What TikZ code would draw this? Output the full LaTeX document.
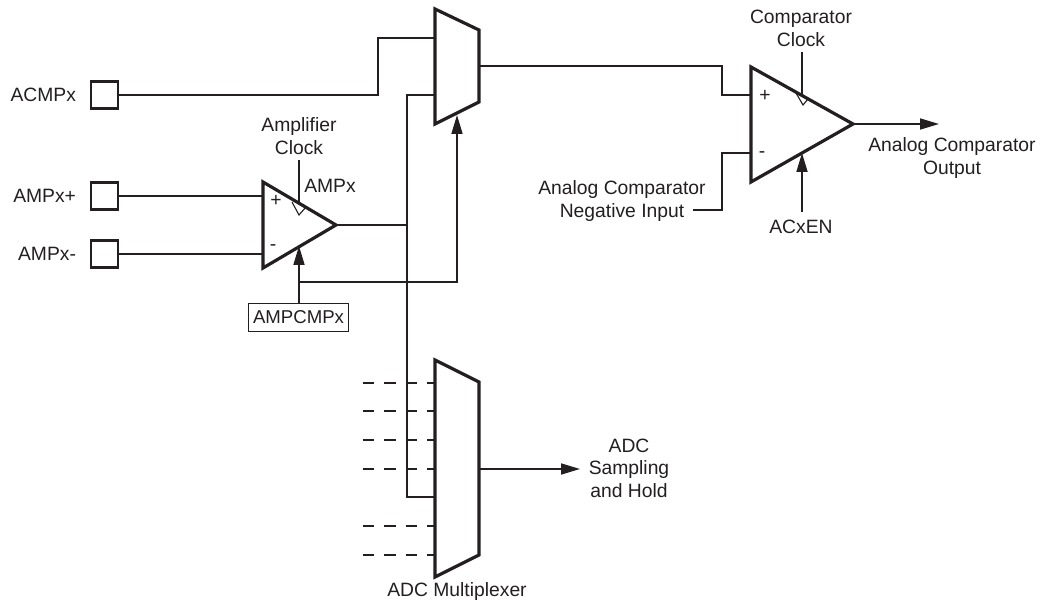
\documentclass[tikz,border=0pt]{standalone}
\usepackage{fontspec}
\setmainfont{Liberation Sans}
\usetikzlibrary{
	positioning,
	arrows.meta
}
\definecolor{inkcolor}{HTML}{231F20}
\tikzset{
	padnode/.style={
		draw=inkcolor,
		line width=2.6pt,
		minimum size=27pt,
		inner sep=0pt
	},
	textnode/.style={
		text=inkcolor,
		inner sep=0pt,
		align=center,
		font=\fontsize{19.3}{22.5}\selectfont
	},
	bitnode/.style={
		draw=inkcolor,
		line width=1.6pt,
		minimum width=100pt,
		minimum height=28pt,
		inner sep=0pt,
		text=inkcolor,
		font=\fontsize{18.6}{22}\selectfont
	},
	signnode/.style={
		text=inkcolor,
		inner sep=0pt,
		font=\fontsize{19.3}{22}\selectfont
	},
	block/.style={
		draw=inkcolor,
		line width=3.2pt,
		line join=miter
	},
	wire/.style={
		draw=inkcolor,
		line width=1.7pt
	},
	arrow/.style={
		wire,
		-{Stealth[length=19pt,width=11pt,inset=0pt]}
	},
	dashwire/.style={
		wire,
		dash pattern=on 11.7pt off 9.7pt
	},
	clockmark/.style={
		draw=inkcolor,
		fill=white,
		line width=1.1pt
	}
}

\begin{document}
\begin{tikzpicture}[x=1pt,y=-1pt]
		\useasboundingbox (0,0) rectangle (1042,604);
		
		% Pads
		\node[padnode] (acmp) at (104.5,95) {};
		\node[padnode] (ampp) at (104.5,196) {};
		\node[padnode] (ampn) at (104.5,254) {};
		\node[textnode, left=13.5pt of acmp] {ACMPx};
		\node[textnode, left=13.5pt of ampp] {AMPx+};
		\node[textnode, left=13.5pt of ampn] {AMPx-};
		
		% Amplifier
		\coordinate (amptop) at (263,182);
		\coordinate (ampbot) at (263,268);
		\coordinate (ampout) at (336,225);
		\coordinate (ampinp) at (263,196);
		\coordinate (ampinn) at (263,254);
		\coordinate (ampclk) at (299,160);
		\coordinate (ampclkend) at (299,203);
		\coordinate (ampen) at (299,246);
		\coordinate (ampbranch) at (299,282);
		\node[bitnode] (ampcmp) at (298.5,317.5) {AMPCMPx};
		\node[textnode] (ampclktext) at (299,136) {Amplifier\\Clock};
		\node[textnode] (amptext) at (330,186) {AMPx};
		\node[signnode] (ampplus) at (276,201) {+};
		\node[signnode] (ampminus) at (273,248) {-};
		
		% Input multiplexer
		\coordinate (muxa) at (435,9);
		\coordinate (muxb) at (479,30);
		\coordinate (muxc) at (479,102);
		\coordinate (muxd) at (435,124);
		\coordinate (muxtop) at (435,38);
		\coordinate (muxlow) at (435,95);
		\coordinate (muxout) at (479,66);
		\coordinate (muxsel) at (457,115);
		
		% Comparator
		\coordinate (cmptop) at (751,67);
		\coordinate (cmpbot) at (751,182);
		\coordinate (cmpout) at (853,124);
		\coordinate (cmpinp) at (751,95);
		\coordinate (cmpinn) at (751,153);
		\coordinate (cmpclk) at (802,52);
		\coordinate (cmpclkend) at (802,94);
		\coordinate (cmpen) at (802,153);
		\coordinate (cmpend) at (939,124);
		\coordinate (neginput) at (693,210);
		\node[textnode] (cmpclktext) at (801,28.5) {Comparator\\Clock};
		\node[textnode] (cmpentext) at (801,227) {ACxEN};
		\node[textnode] (cmpouttext) at (952,158) {Analog Comparator\\Output};
		\node[textnode] (negtext) at (622,201) {Analog Comparator\\Negative Input};
		\node[signnode] (cmpplus) at (765,96) {+};
		\node[signnode] (cmpminus) at (762,155) {-};
		
		% ADC multiplexer
		\coordinate (adca) at (435,360);
		\coordinate (adcb) at (479,382);
		\coordinate (adcc) at (479,555);
		\coordinate (adcd) at (435,577);
		\coordinate (adcin) at (435,497);
		\coordinate (adcout) at (479,469);
		\coordinate (adcend) at (580,469);
		\node[textnode] (adcouttext) at (629,468) {ADC\\Sampling\\and Hold};
		\node[textnode] (adctext) at (457,591.5) {ADC Multiplexer};
		
		% Wires
		\draw[wire] (acmp) -- (378,95) |- (muxtop);
		\draw[wire] (ampp) -- (ampinp);
		\draw[wire] (ampn) -- (ampinn);
		\draw[wire] (ampclk) -- (ampclkend);
		\draw[arrow] (ampcmp.north -| ampen) -- (ampen);
		\draw[arrow] (ampbranch) -| (muxsel);
		\draw[wire] (ampout) -- (407,225);
		\draw[wire] (muxlow) -- (407,95) |- (adcin);
		
		% To the comparator
		\draw[wire] (muxout) -- (722,66) |- (cmpinp);
		\draw[wire] (neginput) -- (722,210) |- (cmpinn);
		\draw[wire] (cmpclk) -- (cmpclkend);
		\draw[arrow] (cmpentext.north -| cmpen) ++(0,-8) -- (cmpen);
		\draw[arrow] (cmpout) -- (cmpend);
		\draw[arrow] (adcout) -- (adcend);
		
		% Unused ADC inputs
		\foreach \i/\y in {1/383, 2/411, 3/440, 4/469, 5/526, 6/555} {
			\coordinate (adcfree\i) at (362.7,\y);
			\coordinate (adcpin\i) at (435,\y);
			\draw[dashwire] (adcfree\i) -- (adcpin\i);
		}
		
		% Blocks
		\draw[clockmark] (292,202) -- (299,215) -- (306,207);
		\draw[clockmark] (796,93) -- (803,105) -- (808,99);
		\draw[block] (amptop) -- (ampout) -- (ampbot) -- cycle;
		\draw[block] (muxa) -- (muxb) -- (muxc) -- (muxd) -- cycle;
		\draw[block] (cmptop) -- (cmpout) -- (cmpbot) -- cycle;
		\draw[block] (adca) -- (adcb) -- (adcc) -- (adcd) -- cycle;
		
	\end{tikzpicture}
\end{document}
